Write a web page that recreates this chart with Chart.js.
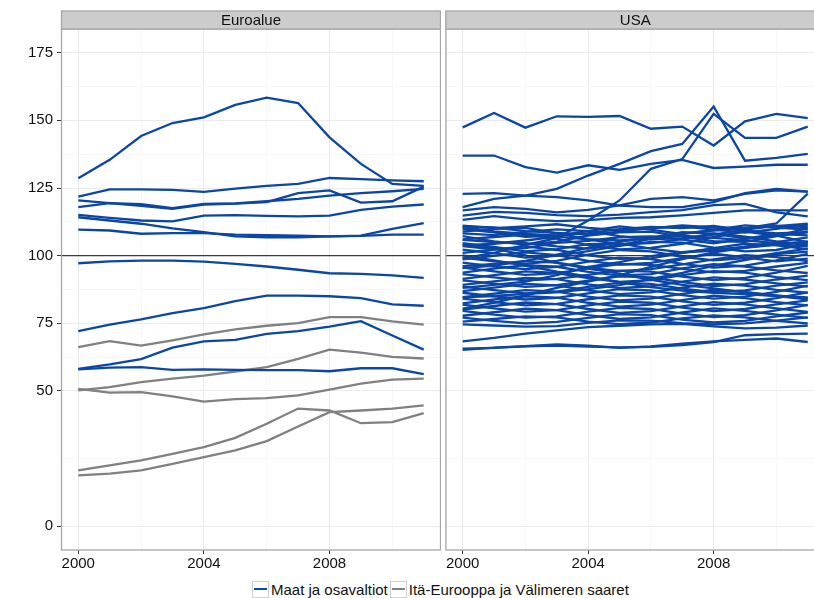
<!DOCTYPE html>
<html><head><meta charset="utf-8">
<script src="https://cdn.jsdelivr.net/npm/chart.js@4.4.1/dist/chart.umd.min.js"></script>
<style>
html,body{margin:0;padding:0;background:#fff;width:814px;height:598px;overflow:hidden;position:relative;font-family:"Liberation Sans",Arial,sans-serif;}
canvas{position:absolute;top:0;}
#c1{left:0}
#c2{left:445px}
#legend{position:absolute;top:581px;left:252px;height:17px;display:flex;align-items:center;font-size:15px;color:#111;white-space:nowrap;}
.key{display:inline-block;width:15px;height:15px;border:1px solid #d0d0d0;position:relative;margin-right:2px;}
.key i{position:absolute;left:1px;right:1px;top:6px;height:2px;}
.lab{margin-right:2px;}
</style></head>
<body>
<canvas id="c1" width="441" height="575"></canvas>
<canvas id="c2" width="380" height="575"></canvas>
<div id="legend"><span class="key"><i style="background:#0B46A6"></i></span><span class="lab">Maat ja osavaltiot</span><span class="key"><i style="background:#808080"></i></span><span class="lab">Itä-Eurooppa ja Välimeren saaret</span></div>
<script>
const years = [2000,2001,2002,2003,2004,2005,2006,2007,2008,2009,2010,2011];
const panelTitles = ["Euroalue","USA"];
const seriesNames = ["Maat ja osavaltiot","Itä-Eurooppa ja Välimeren saaret"];
const yTickLabels = [0,50,75,100,125,150,175];
const yMinorGrid = [25,62.5,87.5,112.5,137.5,162.5];
const xTickLabels = [2000,2004,2008];
const xMinorGrid = [2002,2006,2010];

// Euroalue: countries (blue)
const euroCountries = [
 [128.6,135.4,144.2,149.0,151.1,155.7,158.4,156.4,143.7,133.9,126.5,125.8],
 [121.8,124.5,124.5,124.3,123.6,124.8,125.8,126.5,128.7,128.3,127.8,127.5],
 [120.4,119.4,118.4,117.3,118.9,119.2,119.8,123.1,124.1,119.6,120.1,125.5],
 [117.9,119.4,119.0,117.6,119.1,119.3,120.1,121.0,122.2,123.1,123.8,124.7],
 [115.1,114.0,113.0,112.7,114.8,115.0,114.7,114.5,114.8,116.9,118.1,118.9],
 [114.2,113.0,111.8,110.1,108.7,107.1,106.8,106.8,107.1,107.4,109.9,112.0],
 [109.6,109.3,108.1,108.3,108.3,107.8,107.6,107.4,107.1,107.3,107.8,107.8],
 [97.2,97.9,98.2,98.2,97.8,97.0,96.0,94.8,93.5,93.3,92.7,91.8],
 [72.1,74.5,76.5,78.8,80.6,83.2,85.2,85.2,85.0,84.3,82.0,81.5],
 [58.2,59.8,61.8,66.0,68.3,68.9,71.1,72.1,73.8,75.8,70.5,65.3],
 [58.0,58.6,58.8,57.8,58.0,57.8,57.7,57.7,57.3,58.4,58.4,56.2]
];
// Euroalue: Eastern Europe & Mediterranean islands (grey)
const euroEast = [
 [66.2,68.4,66.8,68.7,70.9,72.8,74.1,75.1,77.3,77.3,75.7,74.5],
 [50.2,51.4,53.3,54.6,55.7,57.2,58.8,61.9,65.3,64.2,62.6,62.0],
 [50.8,49.4,49.6,48.0,46.1,47.0,47.4,48.4,50.5,52.7,54.2,54.6],
 [20.7,22.5,24.4,26.8,29.3,32.7,37.9,43.5,42.8,38.1,38.5,41.8],
 [18.8,19.5,20.7,23.1,25.6,28.1,31.5,36.9,42.2,42.8,43.5,44.7]
];
// USA: states (blue)
const usaStates = [
 [147.4,152.7,147.3,151.5,151.3,151.6,146.9,147.7,140.7,149.6,152.4,150.8],
 [137.0,137.0,132.7,130.7,133.4,131.7,133.9,135.4,132.4,132.9,133.6,133.6],
 [117.9,121.0,122.2,124.7,129.6,133.9,138.6,141.3,155.1,135.1,136.1,137.6],
 [99.0,101.0,104.0,106.5,113.0,120.4,132.1,135.7,152.4,143.5,143.5,147.7],
 [122.8,123.1,122.2,121.6,120.4,118.5,117.9,117.9,119.8,123.1,124.7,123.7],
 [116.7,117.9,117.3,116.0,116.9,118.6,121.0,121.6,120.4,122.8,124.1,123.7],
 [114.8,116.2,115.8,115.0,114.6,115.2,116.1,116.8,118.7,119.1,116.0,114.5],
 [113.2,114.6,113.4,112.8,113.1,114.0,114.2,114.9,115.8,116.7,116.7,116.7],
 [111.1,110.2,110.8,111.6,110.3,109.4,110.1,111.2,110.4,110.1,111.9,122.9],
 [110.5,109.0,108.0,107.5,108.3,109.8,110.6,110.2,111.0,109.3,108.2,108.8],
 [109.8,108.6,107.0,107.4,109.1,110.8,109.6,108.0,109.5,111.2,110.4,109.6],
 [108.9,109.9,110.3,108.2,106.1,105.6,106.4,108.7,108.1,106.4,107.3,108.6],
 [107.2,105.3,104.1,105.2,107.4,108.6,108.9,107.0,105.4,105.1,107.2,110.2],
 [106.0,106.9,107.8,106.3,103.9,102.3,102.9,104.4,106.9,108.9,107.4,105.0],
 [104.6,103.2,101.6,102.4,104.3,104.5,102.6,101.2,101.8,103.3,105.0,106.8],
 [103.8,104.4,105.6,107.0,106.0,104.3,104.6,106.1,108.2,107.0,105.3,103.9],
 [102.2,100.9,99.3,99.9,101.7,103.6,105.1,104.8,103.0,101.6,102.1,104.5],
 [101.0,102.2,103.4,102.1,100.1,98.8,99.0,100.9,102.8,104.4,103.8,102.4],
 [99.3,97.9,97.0,98.1,100.4,102.1,101.6,99.6,98.3,99.1,100.9,102.6],
 [98.6,99.9,101.2,100.2,98.1,96.7,97.3,99.1,100.7,99.4,97.9,98.9],
 [97.4,96.0,95.0,95.9,97.8,99.3,98.7,97.0,95.6,96.3,98.3,100.7],
 [96.1,97.0,98.0,97.4,95.6,94.3,95.0,96.8,98.6,100.2,99.5,98.0],
 [95.6,94.2,92.9,93.5,95.3,96.9,96.6,95.1,93.8,94.4,96.0,97.3],
 [93.7,95.2,96.5,95.9,94.0,92.6,93.2,95.3,96.9,96.0,94.6,93.6],
 [93.2,92.0,90.9,91.4,92.9,94.5,94.1,92.3,91.0,91.8,93.7,96.2],
 [91.4,92.8,94.2,93.6,91.7,90.3,91.0,92.8,94.3,93.7,92.1,91.0],
 [90.9,89.7,88.5,89.1,90.8,92.4,92.0,90.2,88.8,89.5,91.2,92.6],
 [89.2,90.5,91.8,91.3,89.4,88.0,88.7,90.4,92.0,91.2,89.8,88.6],
 [88.6,87.3,86.1,86.7,88.5,90.0,89.6,87.8,86.5,87.2,88.9,90.1],
 [86.9,88.2,89.6,89.0,87.2,85.8,86.4,88.2,89.7,88.9,87.4,86.3],
 [86.3,85.0,83.8,84.4,86.1,87.6,87.2,85.4,84.1,84.9,86.6,88.9],
 [84.7,86.0,87.3,86.7,84.9,83.5,84.1,85.9,87.4,86.6,85.1,83.9],
 [84.1,82.8,81.6,82.2,83.9,85.3,84.9,83.1,81.8,82.6,84.3,86.4],
 [82.4,83.8,85.0,84.5,82.6,81.2,81.9,83.6,85.2,84.3,82.8,81.6],
 [81.9,80.5,79.3,79.9,81.6,83.0,82.6,80.8,79.5,80.3,82.0,83.5],
 [80.1,81.4,82.7,82.1,80.3,78.9,79.5,81.3,82.8,82.0,80.5,79.2],
 [79.6,78.2,77.1,77.6,79.3,80.7,80.3,78.6,77.3,78.0,79.8,81.8],
 [77.8,79.1,80.4,79.9,78.0,76.6,77.2,79.0,80.5,79.6,78.2,77.0],
 [77.1,75.9,75.0,75.5,77.0,78.4,78.0,76.4,75.3,75.9,77.6,79.0],
 [75.6,76.6,77.6,77.2,75.6,74.7,75.3,76.8,77.9,77.2,75.9,75.0],
 [74.6,74.2,73.8,74.0,75.2,76.1,76.0,75.1,74.6,75.0,76.0,77.2],
 [110.8,110.4,109.1,108.4,107.8,108.9,110.3,110.8,109.6,108.5,109.9,111.4],
 [108.2,107.6,108.8,109.7,109.1,107.2,106.0,106.5,107.8,109.6,111.0,110.6],
 [105.8,105.0,104.6,103.4,102.6,103.9,106.2,107.4,106.6,105.7,104.6,104.9],
 [103.5,102.3,102.8,104.7,105.5,106.8,107.1,105.9,104.6,106.2,108.1,107.5],
 [80.4,82.6,85.3,88.1,90.4,92.8,95.9,98.7,101.2,102.9,104.1,105.3],
 [104.0,102.7,100.1,97.3,95.2,93.4,91.1,89.2,87.9,86.4,85.3,84.2],
 [95.4,96.3,98.1,100.4,102.9,105.1,106.8,108.2,109.3,110.2,110.9,111.8],
 [88.1,89.2,90.4,92.8,95.9,97.6,99.8,101.3,102.4,103.1,104.2,103.4],
 [100.1,98.3,96.2,94.1,92.3,90.2,88.4,87.1,86.3,85.8,85.1,84.6],
 [84.6,85.1,85.9,86.4,87.6,89.1,91.4,93.6,96.2,98.4,100.6,101.5],
 [68.3,69.6,71.2,72.4,73.6,74.1,74.6,74.8,73.9,73.1,73.4,74.2],
 [65.6,65.9,66.5,66.8,66.4,66.1,66.3,67.0,68.1,70.6,71.0,71.2],
 [65.2,66.0,66.6,67.2,66.8,65.9,66.5,67.5,68.3,68.9,69.4,68.1]
];

const BLUE = '#0B46A6', GREY = '#808080';
const FONT = '"Liberation Sans", Arial, sans-serif';
Chart.defaults.font.family = FONT;

function toDatasets(list, color) {
  return list.map(vals => ({
    data: vals.map((v, i) => ({x: years[i], y: v})),
    borderColor: color, borderWidth: 2.3, pointRadius: 0, tension: 0, fill: false
  }));
}

const panelPlugin = {
  id: 'panel',
  afterDatasetsDraw(chart) {
    const {ctx, chartArea: a, scales} = chart;
    const y = scales.y.getPixelForValue(100);
    ctx.save();
    ctx.strokeStyle = '#3a3a3a'; ctx.lineWidth = 1.2;
    ctx.beginPath(); ctx.moveTo(a.left, y); ctx.lineTo(a.right, y); ctx.stroke();
    ctx.restore();
  },
  afterDraw(chart, args, opts) {
    const {ctx, chartArea: a} = chart;
    ctx.save();
    ctx.strokeStyle = '#a6a6a6'; ctx.lineWidth = 1.3;
    ctx.strokeRect(a.left + 0.5, a.top, a.right - a.left - 1, a.bottom - a.top);
    ctx.fillStyle = '#cccccc';
    ctx.fillRect(a.left, 11, a.right - a.left, a.top - 11);
    ctx.strokeRect(a.left + 0.5, 11, a.right - a.left - 1, a.top - 11);
    ctx.fillStyle = '#111';
    ctx.font = '15px ' + FONT;
    ctx.textAlign = 'center'; ctx.textBaseline = 'middle';
    ctx.fillText(opts.title, (a.left + a.right) / 2, 20.5);
    ctx.restore();
  }
};

function makeChart(id, title, datasets, showY) {
  const xGrid = [...xTickLabels, ...xMinorGrid].sort((a, b) => a - b);
  const yGrid = [...yTickLabels, ...yMinorGrid].sort((a, b) => a - b);
  return new Chart(document.getElementById(id), {
    type: 'line',
    data: {datasets},
    options: {
      responsive: false, animation: false, devicePixelRatio: 1,
      layout: {padding: {top: 29, left: 0, right: 0, bottom: 0}},
      plugins: {legend: {display: false}, tooltip: {enabled: false}, panel: {title}},
      scales: {
        x: {
          type: 'linear', min: 1999.45, max: 2011.55,
          afterBuildTicks: s => { s.ticks = xGrid.map(v => ({value: v})); },
          afterFit: s => { s.height = 25; },
          border: {display: false},
          grid: {
            color: c => xTickLabels.includes(c.tick && c.tick.value) ? '#ebebeb' : '#f7f7f7',
            tickColor: c => xTickLabels.includes(c.tick && c.tick.value) ? '#333333' : 'rgba(0,0,0,0)',
            tickLength: 4, lineWidth: 1
          },
          ticks: {
            autoSkip: false, maxRotation: 0, padding: 1, color: '#111',
            font: {size: 15, family: FONT},
            callback: v => xTickLabels.includes(v) ? String(v) : ''
          }
        },
        y: {
          type: 'linear', min: -8.75, max: 183.75,
          afterBuildTicks: s => { s.ticks = yGrid.map(v => ({value: v})); },
          afterFit: s => { s.width = showY ? 61 : 0; },
          border: {display: false},
          grid: {
            color: c => yTickLabels.includes(c.tick && c.tick.value) ? '#ebebeb' : '#f7f7f7',
            tickColor: c => (showY && yTickLabels.includes(c.tick && c.tick.value)) ? '#333333' : 'rgba(0,0,0,0)',
            tickLength: 4, drawTicks: showY, lineWidth: 1
          },
          ticks: {
            display: showY, autoSkip: false, padding: 4, color: '#111',
            font: {size: 15, family: FONT},
            callback: v => yTickLabels.includes(v) ? String(v) : ''
          }
        }
      }
    },
    plugins: [panelPlugin]
  });
}

makeChart('c1', panelTitles[0], [...toDatasets(euroCountries, BLUE), ...toDatasets(euroEast, GREY)], true);
makeChart('c2', panelTitles[1], toDatasets(usaStates, BLUE), false);
</script>
</body></html>
